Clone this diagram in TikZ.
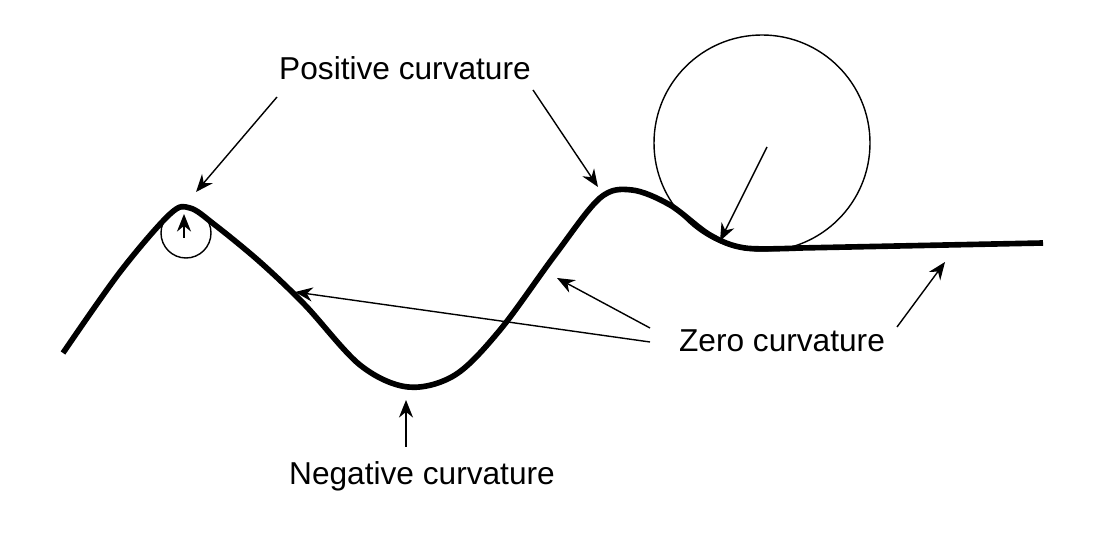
\documentclass[tikz,border=0pt]{standalone}
\usepackage{fontspec}
\setmainfont{Liberation Sans}
\usetikzlibrary{arrows.meta}
\tikzstyle{lbl} = [font=\fontsize{9}{11}\selectfont, inner sep=0pt]
\tikzstyle{pointer} = [-{Stealth[length=5pt,width=4pt]}, thin]
\begin{document}
\begin{tikzpicture}[x=0.01cm, y=-0.01cm]
    \useasboundingbox (0,0) rectangle (1100,540);

    % the curve
    \draw[line width=1.6pt, line join=round] plot[smooth, tension=0.55] coordinates
        {(63,353) (120,272) (170,214) (190,208) (215,225) (260,262) (305,305)
         (360,365) (408,387) (455,375) (500,330) (555,255) (600,198) (632,190)
         (670,205) (710,235) (745,248) (800,248)} -- (1043,243);

    % osculating circles
    \draw (186,233) circle (25);
    \draw (762,143) circle (108);

    % labels
    \node[lbl] (pos) at (405,68) {Positive curvature};
    \node[lbl] (zero) at (782,341) {Zero curvature};
    \node[lbl] (neg) at (422,476) {Negative curvature};

    % arrow ends
    \coordinate (p1s) at (277,97);   \coordinate (p1e) at (196,192);
    \coordinate (p2s) at (533,90);   \coordinate (p2e) at (598,187);
    \coordinate (z1s) at (650,342);  \coordinate (z1e) at (295,292);
    \coordinate (z2s) at (650,328);  \coordinate (z2e) at (557,278);
    \coordinate (z3s) at (897,327);  \coordinate (z3e) at (945,262);
    \coordinate (n1s) at (406,447);  \coordinate (n1e) at (406,400);
    \coordinate (c1s) at (184,238);  \coordinate (c1e) at (184,214);
    \coordinate (c2s) at (767,147);  \coordinate (c2e) at (720,241);

    \draw[pointer] (p1s) -- (p1e);
    \draw[pointer] (p2s) -- (p2e);
    \draw[pointer] (z1s) -- (z1e);
    \draw[pointer] (z2s) -- (z2e);
    \draw[pointer] (z3s) -- (z3e);
    \draw[pointer] (n1s) -- (n1e);
    \draw[pointer] (c1s) -- (c1e);
    \draw[pointer] (c2s) -- (c2e);

\end{tikzpicture}
\end{document}
